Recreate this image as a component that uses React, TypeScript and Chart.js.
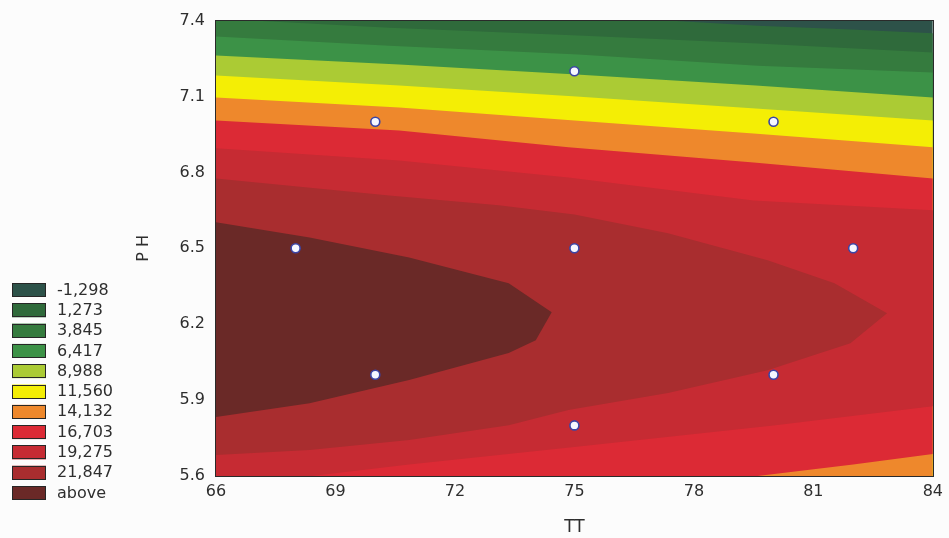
import React, { useEffect, useRef } from 'react';
import { Chart, registerables } from 'chart.js';

Chart.register(...registerables);

// ---- axis ranges & ticks ----
const TT_MIN = 66;
const TT_MAX = 84;
const TT_STEP = 3;
const PH_MIN = 5.6;
const PH_MAX = 7.4;
const PH_STEP = 0.3;

// ---- legend (contour levels) ----
const legendLabels = ['-1,298', '1,273', '3,845', '6,417', '8,988', '11,560', '14,132', '16,703', '19,275', '21,847', 'above'];
const bandColors = ['#2d5249', '#2f6a3b', '#357b3e', '#3c9247', '#abcb34', '#f4ee05', '#ee882c', '#dc2a35', '#c62b33', '#a92d2f', '#6a2927'];

// ---- contour lines: [TT, PH] ----
const contourM1298: [number, number][] = [[76.3, 7.41], [79.6, 7.38], [81.8, 7.366], [84, 7.35]];
const contour1273: [number, number][] = [[66, 7.408], [70.35, 7.372], [75.1, 7.341], [79.6, 7.309], [84, 7.274]];
const contour3845: [number, number][] = [[66, 7.337], [70.35, 7.301], [75.1, 7.266], [79.6, 7.222], [84, 7.195]];
const contour6417: [number, number][] = [[66, 7.262], [70.6, 7.226], [75.05, 7.187], [79.55, 7.143], [84, 7.096]];
const contour8988: [number, number][] = [[66, 7.183], [70.6, 7.143], [75.05, 7.1], [79.55, 7.053], [84, 7.005]];
const contour11560: [number, number][] = [[66, 7.096], [70.6, 7.057], [75, 7.005], [79.5, 6.954], [84, 6.899]];
const contour14132Top: [number, number][] = [[66, 7.005], [70.6, 6.966], [74.85, 6.899], [79.5, 6.839], [84, 6.776]];
const contour14132Bottom: [number, number][] = [[84, 5.687], [82, 5.645], [79.6, 5.6]];
const contour16703Top: [number, number][] = [[66, 6.895], [70.6, 6.847], [74.85, 6.78], [79.5, 6.689], [84, 6.65]];
const contour16703Bottom: [number, number][] = [[84, 5.876], [80, 5.8], [75, 5.715], [70.85, 5.645], [68.4, 5.6]];
const contour19275: [number, number][] = [
  [66, 6.776], [70.35, 6.709], [73.1, 6.67], [75, 6.634], [77.35, 6.559], [79.85, 6.453], [81.53, 6.362],
  [82.85, 6.243], [81.93, 6.125], [79.85, 6.018], [77.35, 5.928], [74.85, 5.861], [73.35, 5.801],
  [70.85, 5.742], [68.35, 5.703], [66, 5.683],
];
const contour21847: [number, number][] = [
  [66, 6.603], [68.35, 6.543], [70.85, 6.464], [73.35, 6.362], [74.43, 6.247], [74.03, 6.137],
  [73.35, 6.086], [70.85, 5.979], [68.35, 5.888], [66, 5.833],
];

// ---- design points ----
const designTT = [68, 70, 75, 80, 82, 75, 70, 80, 75];
const designPH = [6.5, 7.0, 7.2, 7.0, 6.5, 6.5, 6.0, 6.0, 5.8];

const TEXT_COLOR = '#2e2e2e';
const FONT = "'DejaVu Sans', 'Liberation Sans', Arial, sans-serif";

type P = [number, number];
const toPts = (arr: P[]) => arr.map(([x, y]) => ({ x, y }));

// regions where the response is above each level (painted from lowest to highest)
function buildRegions(): { poly: P[]; color: string }[] {
  const BL: P = [TT_MIN, PH_MIN];
  const BR: P = [TT_MAX, PH_MIN];
  const TL: P = [TT_MIN, PH_MAX];
  const TR: P = [TT_MAX, PH_MAX];
  return [
    { poly: [BL, BR, TR, TL], color: bandColors[0] },
    { poly: [TL, ...contourM1298, BR, BL], color: bandColors[1] },
    { poly: [...contour1273, BR, BL], color: bandColors[2] },
    { poly: [...contour3845, BR, BL], color: bandColors[3] },
    { poly: [...contour6417, BR, BL], color: bandColors[4] },
    { poly: [...contour8988, BR, BL], color: bandColors[5] },
    { poly: [...contour11560, BR, BL], color: bandColors[6] },
    { poly: [...contour14132Top, ...contour14132Bottom, BL], color: bandColors[7] },
    { poly: [...contour16703Top, ...contour16703Bottom, BL], color: bandColors[8] },
    { poly: contour19275, color: bandColors[9] },
    { poly: contour21847, color: bandColors[10] },
  ];
}

const framePlugin = {
  id: 'frame',
  afterDatasetsDraw(chart: any) {
    const { ctx, chartArea: a } = chart;
    ctx.save();
    ctx.strokeStyle = '#2a2a2a';
    ctx.lineWidth = 1;
    ctx.strokeRect(Math.round(a.left) - 0.5, Math.round(a.top) - 0.5, Math.round(a.right - a.left) + 1, Math.round(a.bottom - a.top) + 1);
    ctx.restore();
  },
};

const contourLegendPlugin = {
  id: 'contourLegend',
  afterDraw(chart: any) {
    const { ctx } = chart;
    const boxX = 12;
    const boxW = 34;
    const boxH = 14;
    const top0 = 283;
    const pitch = 20.3;
    ctx.save();
    ctx.font = `16px ${FONT}`;
    ctx.textBaseline = 'middle';
    ctx.textAlign = 'left';
    legendLabels.forEach((label, i) => {
      const y = top0 + i * pitch;
      ctx.fillStyle = bandColors[i];
      ctx.fillRect(boxX, y, boxW, boxH);
      ctx.strokeStyle = '#262626';
      ctx.lineWidth = 1;
      ctx.strokeRect(boxX + 0.5, Math.round(y) + 0.5, boxW - 1, boxH - 1);
      ctx.fillStyle = TEXT_COLOR;
      ctx.fillText(label, 57, y + boxH / 2 + 0.5);
    });
    ctx.restore();
  },
};

export default function App() {
  const canvasRef = useRef<HTMLCanvasElement | null>(null);

  useEffect(() => {
    if (!canvasRef.current) return;
    Chart.defaults.font.family = FONT;
    const regions = buildRegions();
    const n = regions.length;
    const regionSets = regions.map((r, i) => ({
      label: `region${i}`,
      data: toPts(r.poly),
      showLine: true,
      fill: 'shape' as const,
      backgroundColor: r.color,
      borderColor: 'rgba(0,0,0,0)',
      borderWidth: 0,
      pointRadius: 0,
      pointHoverRadius: 0,
      tension: 0,
      order: n + 1 - i,
    }));
    const pointSet = {
      label: 'design',
      data: designTT.map((x, i) => ({ x, y: designPH[i] })),
      showLine: false,
      pointRadius: 4.5,
      pointBorderWidth: 1.6,
      pointBackgroundColor: '#f6f7ff',
      pointBorderColor: '#3b45a6',
      order: 0,
    };

    const chart = new Chart(canvasRef.current, {
      type: 'scatter',
      data: { datasets: [pointSet as any, ...(regionSets as any[])] },
      options: {
        animation: false,
        responsive: true,
        maintainAspectRatio: false,
        events: [],
        layout: { padding: { left: 126, right: 13, top: 20, bottom: 0 } },
        plugins: { legend: { display: false }, tooltip: { enabled: false } },
        scales: {
          x: {
            type: 'linear',
            min: TT_MIN,
            max: TT_MAX,
            ticks: { stepSize: TT_STEP, padding: 6, color: TEXT_COLOR, font: { size: 16 } },
            grid: { display: false, drawTicks: false },
            border: { display: true, color: '#2a2a2a' },
            title: { display: true, text: 'TT', color: TEXT_COLOR, font: { size: 17 }, padding: { top: 0, bottom: 0 } },
            afterFit: (s: any) => { s.height = 62; },
          },
          y: {
            type: 'linear',
            min: PH_MIN,
            max: PH_MAX,
            ticks: {
              stepSize: PH_STEP,
              padding: 11,
              color: TEXT_COLOR,
              font: { size: 16 },
              callback: (v: any) => Number(v).toFixed(1),
            },
            grid: { display: false, drawTicks: false },
            border: { display: true, color: '#2a2a2a' },
            title: { display: true, text: 'P H', color: TEXT_COLOR, font: { size: 16 }, padding: { top: 8, bottom: 0 } },
            afterFit: (s: any) => { s.width = 90; },
          },
        },
      },
      plugins: [framePlugin, contourLegendPlugin],
    });
    return () => chart.destroy();
  }, []);

  return (
    <div style={{ position: 'absolute', left: 0, top: 0, width: 949, height: 538, background: '#fcfcfc' }}>
      <canvas ref={canvasRef} />
    </div>
  );
}
